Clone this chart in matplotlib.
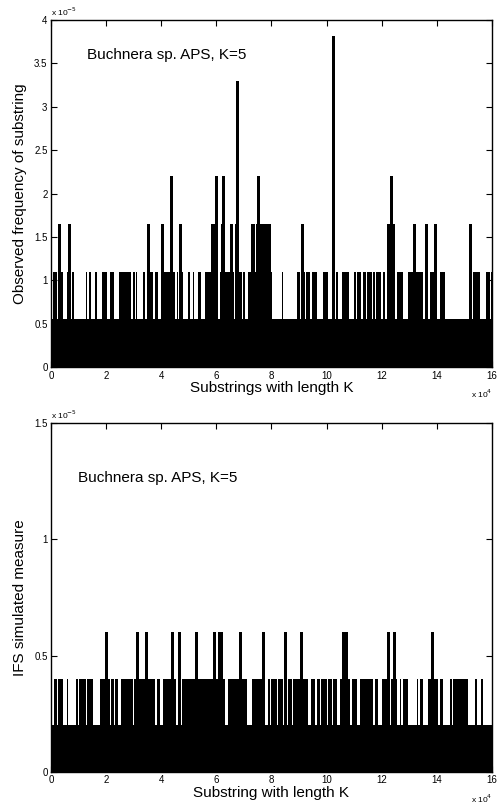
import matplotlib
matplotlib.use("Agg")
import matplotlib.pyplot as plt

plt.rcParams['font.family'] = ['Liberation Sans', 'DejaVu Sans']

# ---------------- data (x in units of 1e4, y in units of 1e-5) ----------------
label_text = "Buchnera sp. APS, K=5"
x_ticks = [0, 2, 4, 6, 8, 10, 12, 14, 16]

# Top panel: observed frequency
top_base_level = 0.55
top_mid_level = 1.1
top_mid_intervals = [
    (0.08, 0.21), (0.27, 0.42), (0.57, 0.71), (0.75, 0.85), (1.27, 1.32),
    (1.39, 1.44), (1.60, 1.66), (1.84, 2.04), (2.14, 2.29), (2.47, 2.90),
    (2.99, 3.05), (3.08, 3.13), (3.33, 3.41), (3.47, 3.71), (3.77, 3.89),
    (3.99, 4.04), (4.07, 4.50), (4.56, 4.62), (4.71, 4.78), (4.98, 5.04),
    (5.14, 5.20), (5.32, 5.43), (5.59, 6.07), (6.13, 6.65), (6.68, 6.92),
    (6.98, 7.04), (7.14, 8.03), (8.37, 8.41), (8.91, 9.03), (9.07, 9.22),
    (9.25, 9.40), (9.48, 9.64), (9.88, 10.06), (10.21, 10.28), (10.33, 10.42),
    (10.55, 10.82), (10.99, 11.07), (11.11, 11.24), (11.33, 11.43),
    (11.48, 11.63), (11.67, 11.75), (11.79, 11.96), (12.06, 12.12),
    (12.18, 12.48), (12.54, 12.78), (12.96, 13.21), (13.24, 13.51),
    (13.61, 13.69), (13.75, 14.01), (14.11, 14.29), (15.32, 15.56),
    (15.77, 15.93), (15.95, 16.0),
]
top_spike_pos = [0.30, 0.66, 3.53, 4.02, 4.68, 5.83, 5.89, 5.95, 6.19, 6.53,
                 6.70, 6.76, 7.30, 7.34, 7.49, 7.58, 7.64, 7.70, 7.76, 7.85,
                 7.91, 9.10, 12.24, 12.28, 12.32, 12.38, 12.42, 13.16, 13.62,
                 13.93, 15.19,
                 4.35, 5.99, 6.23, 7.52, 12.34,
                 6.74, 10.22]
top_spike_val = [1.65] * 31 + [2.2] * 5 + [3.3, 3.82]

# Bottom panel: IFS simulated measure
bot_base_level = 0.2
bot_mid_level = 0.4
bot_mid_intervals = [
    (0.11, 0.21), (0.27, 0.45), (0.57, 0.63), (0.91, 0.99), (1.02, 1.27),
    (1.30, 1.54), (1.78, 2.14), (2.18, 2.27), (2.33, 2.44), (2.53, 2.98),
    (3.01, 3.13), (3.17, 3.41), (3.47, 3.77), (3.84, 3.95), (4.05, 4.53),
    (4.74, 5.41), (5.41, 5.89), (5.95, 6.31), (6.43, 7.10), (7.28, 7.46),
    (7.49, 7.70), (7.88, 7.95), (7.97, 8.19), (8.25, 8.43), (8.61, 8.73),
    (8.77, 9.34), (9.42, 9.58), (9.64, 9.76), (9.80, 10.00), (10.06, 10.18),
    (10.24, 10.39), (10.49, 10.85), (10.91, 11.09), (11.21, 11.69),
    (11.75, 11.87), (12.00, 12.24), (12.32, 12.54), (12.66, 12.69),
    (12.78, 12.96), (13.27, 13.33), (13.39, 13.51), (13.69, 14.05),
    (14.11, 14.23), (14.48, 14.54), (14.57, 15.14), (15.38, 15.44),
    (15.59, 15.68),
]
bot_spike_pos = [1.99, 3.11, 3.45, 4.38, 4.64, 5.25, 5.93, 6.10, 6.16, 6.86,
                 7.70, 8.49, 9.06, 10.60, 10.66, 10.72, 12.22, 12.46, 13.83]
bot_spike_val = [0.6] * len(bot_spike_pos)

# ---------------- drawing ----------------
fig = plt.figure(figsize=(5.01, 8.05), dpi=100)
ax1 = fig.add_axes([0.1018, 0.544, 0.8802, 0.431])
ax2 = fig.add_axes([0.1018, 0.041, 0.8802, 0.4335])


def draw_panel(ax, base, mid, intervals, spos, sval, ymax, yticks, ylabels):
    ax.bar([0], [base], width=16, align='edge', color='black', linewidth=0)
    starts = [a for a, b in intervals]
    widths = [b - a for a, b in intervals]
    ax.bar(starts, [mid] * len(intervals), width=widths, align='edge',
           color='black', linewidth=0)
    ax.vlines(spos, 0, sval, color='black', linewidth=0.9, antialiased=False)
    ax.set_xlim(0, 16)
    ax.set_ylim(0, ymax)
    ax.set_xticks(x_ticks)
    ax.set_xticklabels([str(t) for t in x_ticks])
    ax.set_yticks(yticks)
    ax.set_yticklabels(ylabels)
    ax.tick_params(direction='in', top=True, right=True, length=4, width=0.8,
                   labelsize=7, pad=2.5)
    for s in ax.spines.values():
        s.set_linewidth(1.0)


draw_panel(ax1, top_base_level, top_mid_level, top_mid_intervals,
           top_spike_pos, top_spike_val, 4,
           [0, 0.5, 1, 1.5, 2, 2.5, 3, 3.5, 4],
           ['0', '0.5', '1', '1.5', '2', '2.5', '3', '3.5', '4'])
draw_panel(ax2, bot_base_level, bot_mid_level, bot_mid_intervals,
           bot_spike_pos, bot_spike_val, 1.5,
           [0, 0.5, 1, 1.5], ['0', '0.5', '1', '1.5'])

ax1.text(1.3, 3.6, label_text, fontsize=11, va='center', ha='left')
ax2.text(0.98, 1.264, label_text, fontsize=11, va='center', ha='left')

ax1.set_xlabel("Substrings with length K", fontsize=11, labelpad=0.5)
ax1.set_ylabel("Observed frequency of substring", fontsize=11, labelpad=5)
ax2.set_xlabel("Substring with length K", fontsize=11, labelpad=0.5)
ax2.set_ylabel("IFS simulated measure", fontsize=11, labelpad=5)

for ax in (ax1, ax2):
    ax.text(0.0, 1.005, r"x 10$^{-5}$", transform=ax.transAxes, fontsize=6,
            ha='left', va='bottom')
    ax.text(1.0, -0.06, r"x 10$^{4}$", transform=ax.transAxes, fontsize=6,
            ha='right', va='top')

fig.savefig("out.png", dpi=100)
